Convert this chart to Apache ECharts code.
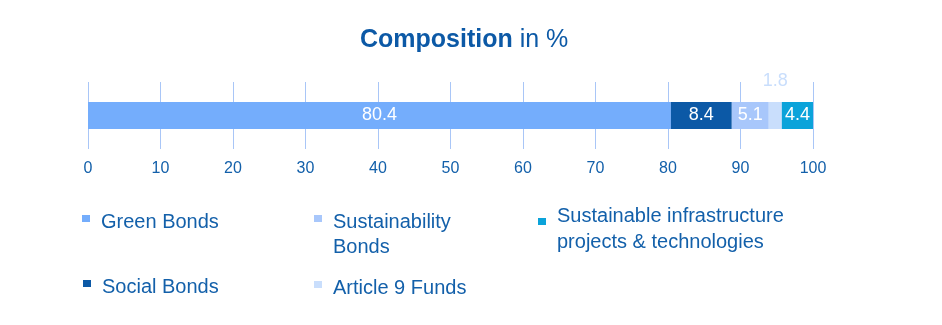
<!DOCTYPE html>
<html>
<head>
<meta charset="utf-8">
<script src="https://cdn.jsdelivr.net/npm/echarts@6/dist/echarts.min.js"></script>
<style>
  html, body { margin: 0; padding: 0; background: #ffffff; }
  #chart { width: 942px; height: 325px; }
</style>
</head>
<body>
<div id="chart"></div>
<script>
// Portfolio composition, share of each instrument type in percent
const categories = ['Portfolio'];
const seriesNames = [
  'Green Bonds',
  'Social Bonds',
  'Sustainability Bonds',
  'Article 9 Funds',
  'Sustainable infrastructure projects & technologies'
];
const greenBonds = [80.4];
const socialBonds = [8.4];
const sustainabilityBonds = [5.1];
const article9Funds = [1.8];
const infrastructure = [4.4];
const tickValues = [0, 10, 20, 30, 40, 50, 60, 70, 80, 90, 100];

const FONT = 'Liberation Sans, Arial, sans-serif';
const TEXT_BLUE = '#1360aa';
const colors = ['#74adfc', '#0c59a6', '#a8c7fb', '#c9defc', '#0ba3da'];

const valueSets = [greenBonds, socialBonds, sustainabilityBonds, article9Funds, infrastructure];

const series = seriesNames.map((name, i) => {
  const small = i === 3;
  return {
    name: name,
    type: 'bar',
    stack: 'total',
    barWidth: 27,
    data: valueSets[i],
    itemStyle: { color: colors[i] },
    label: {
      show: true,
      position: small ? 'top' : 'inside',
      distance: small ? 12 : 5,
      color: small ? '#c9defc' : '#ffffff',
      fontSize: 18,
      fontFamily: FONT,
      formatter: p => p.value.toFixed(1)
    }
  };
});

// legend marker: small square sitting at the top of the text block
const marker = h => 'path://M0,0H8V7H0Z M0,' + h + 'H8';

function legendItem(name, left, top, label, iconH, lineH) {
  return {
    data: [name],
    left: left,
    top: top,
    padding: 0,
    itemWidth: 8,
    itemHeight: iconH,
    icon: marker(iconH),
    itemStyle: { borderWidth: 0 },
    selectedMode: false,
    formatter: () => label,
    textStyle: {
      color: TEXT_BLUE,
      fontSize: 20,
      fontFamily: FONT,
      lineHeight: lineH,
      padding: [0, 0, 0, 6]
    }
  };
}

const option = {
  animation: false,
  backgroundColor: '#ffffff',
  title: {
    left: 360,
    top: 25,
    padding: 0,
    text: '{b|Composition}{n| in %}',
    textStyle: {
      rich: {
        b: { fontSize: 25, fontWeight: 'bold', color: '#0c59a6', fontFamily: FONT, lineHeight: 30 },
        n: { fontSize: 25, fontWeight: 'normal', color: '#0c59a6', fontFamily: FONT, lineHeight: 30 }
      }
    }
  },
  legend: [
    legendItem(seriesNames[0], 82, 209.5, 'Green Bonds', 14, 25),
    legendItem(seriesNames[1], 83, 274.5, 'Social Bonds', 14, 25),
    legendItem(seriesNames[2], 314, 209.5, 'Sustainability\nBonds', 39, 25),
    legendItem(seriesNames[3], 314, 275.5, 'Article 9 Funds', 14, 25),
    legendItem(seriesNames[4], 538, 203, 'Sustainable infrastructure\nprojects & technologies', 22, 26)
  ],
  grid: { left: 88, right: 129, top: 82, height: 67, containLabel: false },
  xAxis: {
    type: 'value',
    min: tickValues[0],
    max: tickValues[tickValues.length - 1],
    interval: tickValues[1] - tickValues[0],
    axisLine: { show: false },
    axisTick: { show: false },
    axisLabel: { color: TEXT_BLUE, fontSize: 16, fontFamily: FONT, margin: 12 },
    splitLine: { show: true, lineStyle: { color: '#a9c6f7', width: 1 } }
  },
  yAxis: {
    type: 'category',
    data: categories,
    show: false
  },
  series: series
};

const chart = echarts.init(document.getElementById('chart'), null, { renderer: 'canvas' });
chart.setOption(option);
</script>
</body>
</html>
